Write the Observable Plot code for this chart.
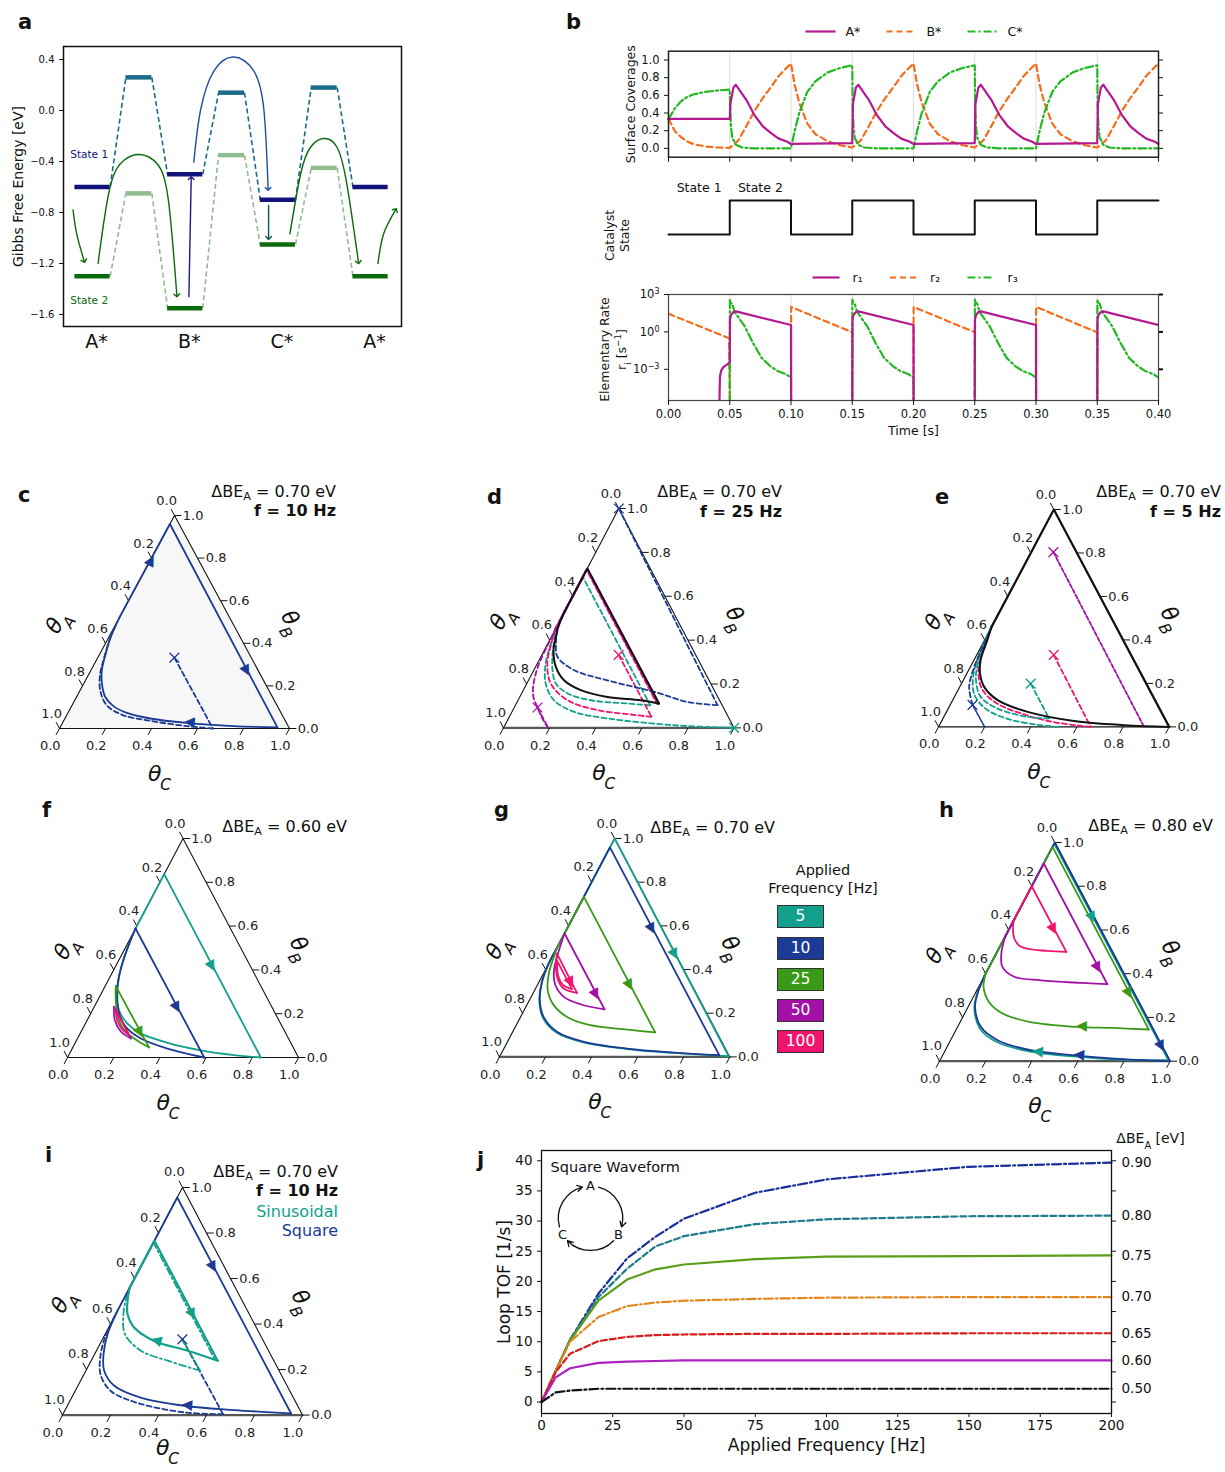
<!DOCTYPE html>
<html>
<head>
<meta charset="utf-8">
<script src="https://cdn.jsdelivr.net/npm/d3@7"></script>
<script src="https://cdn.jsdelivr.net/npm/@observablehq/plot@0.6"></script>
<style>
  html,body{margin:0;padding:0;background:#fff;}
  #root{position:relative;width:1225px;height:1472px;overflow:hidden;font-family:"DejaVu Sans",sans-serif;color:#111;}
  .t{position:absolute;white-space:nowrap;}
  .t sub{font-size:70%;vertical-align:-0.25em;line-height:0;}
</style>
</head>
<body>
<div id="root"></div>
<script>
// ======================= DATA =======================
// ---- panel a: free-energy diagram ----
const aPos = [0, 0.5, 1, 1.5, 2, 2.5, 3];
const aState1 = [-0.6, 0.26, -0.5, 0.14, -0.7, 0.18, -0.6];
const aState2 = [-1.3, -0.65, -1.55, -0.35, -1.05, -0.45, -1.3];
const aSpecies = ["A*", "B*", "C*", "A*"];
const aYTicks = [0.4, 0.0, -0.4, -0.8, -1.2, -1.6];
const aArrowInA = [[-0.21, -0.78], [-0.17, -0.97], [-0.09, -1.18]];
const aArrowAB2 = [[0.06, -1.2], [0.19, -0.6], [0.34, -0.39], [0.51, -0.345], [0.70, -0.42], [0.82, -0.71], [0.91, -1.45]];
const aArrowB21 = [[1.04, -1.46], [1.065, -0.53]];
const aArrowBC1 = [[1.093, -0.405], [1.165, 0.0], [1.31, 0.31], [1.525, 0.42], [1.74, 0.31], [1.85, 0.0], [1.895, -0.615]];
const aArrowC12 = [[1.9, -0.745], [1.9, -1.0]];
const aArrowCA2 = [[2.13, -0.967], [2.245, -0.5], [2.35, -0.29], [2.49, -0.22], [2.64, -0.29], [2.75, -0.6], [2.87, -1.19]];
const aArrowOutA = [[3.08, -1.2], [3.14, -0.97], [3.27, -0.78]];

// ---- panel b: time series ----
const bStateT = [0, 0.05, 0.1, 0.15, 0.2, 0.25, 0.3, 0.35, 0.4];
const bStateV = [1, 2, 1, 2, 1, 2, 1, 2, 2];
const bState2Starts = [0.05, 0.15, 0.25, 0.35];
const bState1Starts = [0.1, 0.2, 0.3];
const bTimeTicks = [0, 0.05, 0.1, 0.15, 0.2, 0.25, 0.3, 0.35, 0.4];
const bCovTicks = [0, 0.2, 0.4, 0.6, 0.8, 1.0];
const bRateTicks = [1e-3, 1, 1e3];
// coverages: first half period (0-0.05 s)
const covInitU = [0, 0.005, 0.01, 0.015, 0.02, 0.03, 0.04, 0.05];
const covAInit = [0.333, 0.333, 0.333, 0.333, 0.333, 0.333, 0.333, 0.333];
const covBInit = [0.333, 0.2, 0.13, 0.08, 0.05, 0.02, 0.01, 0.005];
const covCInit = [0.333, 0.45, 0.53, 0.58, 0.61, 0.64, 0.655, 0.665];
// coverages within a State-2 half period (time since switch)
const covAS2U = [0.0005, 0.003, 0.005, 0.0135, 0.02, 0.027, 0.034, 0.04, 0.047, 0.05];
const covAS2 = [0.5, 0.69, 0.72, 0.55, 0.38, 0.25, 0.17, 0.11, 0.075, 0.05];
const covBS2U = [0.007, 0.0135, 0.02, 0.027, 0.034, 0.04, 0.047, 0.05];
const covBS2 = [0.09, 0.25, 0.42, 0.57, 0.70, 0.82, 0.92, 0.96];
const covCS2U = [0.0003, 0.001, 0.002, 0.005, 0.01, 0.02, 0.05];
const covCS2 = [0.5, 0.25, 0.12, 0.04, 0.01, 0.0, 0.0];
// coverages within a State-1 half period
const covAS1U = [0.05];
const covAS1 = [0.06];
const covBS1U = [0.003, 0.0067, 0.0133, 0.02, 0.03, 0.04, 0.05];
const covBS1 = [0.72, 0.52, 0.28, 0.16, 0.08, 0.035, 0.01];
const covCS1U = [0.003, 0.0067, 0.0133, 0.02, 0.03, 0.04, 0.05];
const covCS1 = [0.2, 0.40, 0.64, 0.76, 0.86, 0.91, 0.94];
// elementary rates, log10 values (-6 = below axis)
const r1InitU = [0, 0.0415, 0.042, 0.043, 0.045, 0.048, 0.05];
const r1Init = [-6, -6, -3.6, -3.1, -2.8, -2.6, -2.45];
const r1S2U = [0.0002, 0.001, 0.003, 0.005, 0.05];
const r1S2 = [1.0, 1.35, 1.6, 1.65, 0.55];
const r1S1U = [0.0001, 0.05];
const r1S1 = [-6, -6];
const r2InitU = [0, 0.0495];
const r2Init = [1.45, -0.5];
const r2S2U = [0.0001, 0.05];
const r2S2 = [-6, -6];
const r2S1U = [0.0001, 0.05];
const r2S1 = [2.0, -0.03];
const r3InitU = [0, 0.05];
const r3Init = [-6, -6];
const r3S2U = [0.0001, 0.0006, 0.002, 0.004, 0.0124, 0.019, 0.026, 0.033, 0.039, 0.046, 0.05];
const r3S2 = [2.6, 2.35, 2.26, 1.6, 0.42, -0.89, -2.08, -2.74, -3.13, -3.39, -3.66];
const r3S1U = [0.0001, 0.05];
const r3S1 = [-6, -6];

// ---- ternary panels: trajectories as [thetaB, thetaC] (thetaA = 1 - B - C) ----
const ternTicks = [0, 0.2, 0.4, 0.6, 0.8, 1.0];
// c
const cLoopEdge = [[0.524, 0], [0.96, 0], [0.005, 0.945]];
const cLoopRet = [[0.005, 0.945], [0.011, 0.751], [0.026, 0.541], [0.047, 0.371], [0.073, 0.256], [0.105, 0.182], [0.148, 0.125], [0.211, 0.079], [0.274, 0.047], [0.344, 0.027], [0.423, 0.009], [0.524, 0]];
const cInitLine = [[0.333, 0.333], [0, 0.667]];
const cInitRet = [[0, 0.667], [0.011, 0.549], [0.036, 0.376], [0.062, 0.247], [0.109, 0.151], [0.18, 0.087], [0.258, 0.048], [0.321, 0.031], [0.399, 0.013], [0.46, 0.003]];
const cStart = [0.333, 0.333];
// d
const dLoopEdge = [[0.53, 0], [0.727, 0], [0.111, 0.619]];
const dLoopRet = [[0.111, 0.619], [0.126, 0.532], [0.141, 0.38], [0.172, 0.249], [0.217, 0.154], [0.278, 0.088], [0.354, 0.04], [0.415, 0.02], [0.46, 0.007], [0.53, 0]];
const dNavyEdge = [[1, 0], [0.104, 0.876]];
const dNavyRet = [[0.104, 0.876], [0.118, 0.739], [0.16, 0.588], [0.217, 0.342], [0.263, 0.175], [0.324, 0.072], [0.385, 0.035], [0.445, 0.011], [0.53, 0]];
const dTealRet1 = [[0, 1], [0.012, 0.734], [0.043, 0.43], [0.073, 0.27], [0.126, 0.156], [0.202, 0.082], [0.294, 0.036], [0.385, 0.013], [0.45, 0]];
const dTealEdge = [[0.45, 0], [0.688, 0], [0.103, 0.585]];
const dTealRet2 = [[0.103, 0.585], [0.111, 0.482], [0.126, 0.316], [0.157, 0.2], [0.202, 0.126], [0.263, 0.081], [0.324, 0.05], [0.4, 0.02], [0.46, 0]];
const dPinkLine = [[0.333, 0.333], [0.05, 0.617]];
const dPinkRet = [[0.05, 0.617], [0.058, 0.55], [0.081, 0.368], [0.126, 0.215], [0.202, 0.104], [0.294, 0.043], [0.385, 0.015], [0.45, 0]];
const dPinkEdge = [[0.45, 0], [0.722, 0], [0.11, 0.612]];
const dPurpLine = [[0.093, 0.101], [0, 0.194]];
const dPurpRet = [[0, 0.194], [0.04, 0.15], [0.093, 0.101], [0.14, 0.06], [0.187, 0.035], [0.278, 0.01], [0.4, 0.002], [0.5, 0]];
const dPurpEdge = [[0.5, 0], [0.725, 0], [0.112, 0.616]];
const dStarts = {navy: [1, 0], teal: [0, 1], pink: [0.333, 0.333], purple: [0.093, 0.101]};
// e
const eLoopEdge = [[0.46, 0], [1, 0], [0, 1]];
const eLoopRet = [[0, 1], [0.008, 0.801], [0.027, 0.574], [0.069, 0.352], [0.123, 0.195], [0.184, 0.106], [0.246, 0.057], [0.307, 0.029], [0.399, 0.012], [0.46, 0]];
const ePurpLine = [[0.804, 0.096], [0, 0.891]];
const ePinkLine = [[0.331, 0.334], [0, 0.66]];
const ePinkRet = [[0, 0.66], [0.02, 0.5], [0.055, 0.35], [0.11, 0.195], [0.17, 0.106], [0.233, 0.057], [0.295, 0.029], [0.39, 0.01], [0.46, 0]];
const eTealLine = [[0.199, 0.3], [0.039, 0.46]];
const eTealRet = [[0.039, 0.46], [0.046, 0.363], [0.084, 0.214], [0.138, 0.114], [0.215, 0.055], [0.291, 0.024], [0.383, 0.005], [0.46, 0]];
const eTealRet2 = [[0, 0.52], [0.01, 0.42], [0.04, 0.27], [0.085, 0.16], [0.15, 0.08], [0.23, 0.035], [0.33, 0.01], [0.45, 0]];
const eNavyLine = [[0.101, 0.097], [0, 0.2]];
const eNavyRet = [[0.101, 0.097], [0.184, 0.041], [0.276, 0.017], [0.383, 0.006], [0.46, 0]];
const eStarts = {purple: [0.804, 0.096], pink: [0.331, 0.334], teal: [0.199, 0.3], navy: [0.101, 0.097]};
// f (0.60 eV)
const fTealEdge = [[0.589, 0], [0.837, 0], [0, 0.837]];
const fTealRet = [[0, 0.837], [0.011, 0.716], [0.033, 0.56], [0.067, 0.4], [0.11, 0.262], [0.155, 0.182], [0.216, 0.115], [0.292, 0.07], [0.368, 0.039], [0.459, 0.016], [0.589, 0]];
const fNavyEdge = [[0.589, 0], [0, 0.592]];
const fNavyRet = [[0, 0.592], [0.041, 0.412], [0.087, 0.274], [0.14, 0.182], [0.201, 0.123], [0.277, 0.075], [0.353, 0.043], [0.429, 0.023], [0.521, 0.007], [0.589, 0]];
const fGreenEdge = [[0.326, 0.046], [0.046, 0.33]];
const fGreenRet = [[0.046, 0.33], [0.087, 0.245], [0.125, 0.183], [0.185, 0.126], [0.262, 0.078], [0.326, 0.046]];
const fPurpEdge = [[0.231, 0.086], [0.087, 0.231]];
const fPurpRet = [[0.087, 0.231], [0.12, 0.17], [0.17, 0.12], [0.231, 0.086]];
const fPinkEdge = [[0.216, 0.101], [0.102, 0.216]];
const fPinkRet = [[0.102, 0.216], [0.13, 0.17], [0.17, 0.13], [0.216, 0.101]];
// g (0.70 eV)
const gTealEdge = [[0.5, 0], [1, 0], [0.003, 0.994]];
const gTealRet = [[0.003, 0.994], [0.018, 0.747], [0.036, 0.535], [0.066, 0.332], [0.11, 0.194], [0.178, 0.1], [0.256, 0.045], [0.34, 0.013], [0.428, 0], [0.5, 0]];
const gNavyEdge = [[0.5, 0], [0.959, 0], [0.008, 0.95]];
const gNavyRet = [[0.008, 0.95], [0.02, 0.747], [0.038, 0.535], [0.069, 0.332], [0.114, 0.194], [0.183, 0.1], [0.26, 0.045], [0.343, 0.013], [0.428, 0], [0.5, 0]];
const gGreenEdge = [[0.5, 0], [0.733, 0], [0.112, 0.62]];
const gGreenRet = [[0.112, 0.62], [0.125, 0.491], [0.145, 0.322], [0.183, 0.202], [0.237, 0.117], [0.305, 0.057], [0.382, 0.023], [0.458, 0.007], [0.5, 0]];
const gPurpEdge = [[0.565, 0], [0.218, 0.347]];
const gPurpRet = [[0.218, 0.347], [0.241, 0.231], [0.275, 0.142], [0.328, 0.079], [0.39, 0.041], [0.458, 0.021], [0.53, 0.006], [0.565, 0]];
const gPinkEdge = [[0.473, 0.013], [0.293, 0.19]];
const gPinkRet = [[0.293, 0.19], [0.313, 0.122], [0.35, 0.08], [0.41, 0.04], [0.473, 0.013]];
const gPink2Edge = [[0.44, 0.03], [0.31, 0.16]];
const gPink2Ret = [[0.31, 0.16], [0.33, 0.11], [0.37, 0.07], [0.44, 0.03]];
// h (0.80 eV)
const hTealEdge = [[0.39, 0], [0.995, 0], [0.005, 0.99]];
const hTealRet = [[0.005, 0.99], [0.008, 0.751], [0.022, 0.57], [0.044, 0.371], [0.088, 0.204], [0.15, 0.1], [0.242, 0.03], [0.305, 0.01], [0.39, 0]];
const hNavyEdge = [[0.39, 0], [1, 0], [0, 1]];
const hBound = [[0, 1], [0.012, 0.751], [0.027, 0.57], [0.05, 0.371], [0.096, 0.204], [0.157, 0.101], [0.248, 0.03], [0.31, 0.01], [0.39, 0]];
const hGreenEdge = [[0.401, 0], [0.98, 0], [0.145, 0.835]];
const hGreenRet = [[0.145, 0.835], [0.152, 0.675], [0.157, 0.514], [0.18, 0.3], [0.218, 0.165], [0.271, 0.079], [0.34, 0.021], [0.401, 0]];
const hPurpEdge = [[0.568, 0], [0.904, 0], [0.352, 0.552]];
const hPurpRet = [[0.352, 0.552], [0.358, 0.434], [0.37, 0.254], [0.386, 0.131], [0.431, 0.057], [0.5, 0.019], [0.568, 0]];
const hPinkEdge = [[0.65, 0], [0.8, 0], [0.5, 0.3]];
const hPinkRet = [[0.5, 0.3], [0.504, 0.216], [0.523, 0.092], [0.561, 0.044], [0.622, 0.008], [0.65, 0]];
// i (square vs sinusoidal)
const iSqEdge = [[0.46, 0], [0.956, 0], [0.007, 0.949]];
const iSqRet = [[0.007, 0.949], [0.022, 0.704], [0.041, 0.487], [0.077, 0.287], [0.129, 0.151], [0.195, 0.076], [0.268, 0.037], [0.356, 0.01], [0.46, 0]];
const iSqLine = [[0.333, 0.333], [0.004, 0.667]];
const iSqTrans = [[0.004, 0.667], [0.012, 0.5], [0.055, 0.28], [0.105, 0.15], [0.175, 0.072], [0.255, 0.03], [0.345, 0.006], [0.45, 0]];
const iSinEdge = [[0.56, 0], [0.766, 0], [0.239, 0.527]];
const iSinRet = [[0.239, 0.527], [0.283, 0.38], [0.326, 0.219], [0.385, 0.106], [0.444, 0.049], [0.502, 0.02], [0.56, 0]];
const iSinLine = [[0.333, 0.333], [0.195, 0.476]];
const iSinTrans = [[0.195, 0.476], [0.239, 0.319], [0.283, 0.185], [0.356, 0.082], [0.444, 0.032], [0.517, 0.008], [0.58, 0]];
const iSinEdge2 = [[0.58, 0], [0.758, 0], [0.245, 0.512]];
const iStart = [0.333, 0.333];
// g legend
const gFreqs = ["5", "10", "25", "50", "100"];

// ---- panel j: loop TOF vs frequency ----
const jFreq = [0, 5, 10, 20, 30, 40, 50, 75, 100, 150, 200];
const jBE = ["0.90", "0.80", "0.75", "0.70", "0.65", "0.60", "0.50"];
const jTOF090 = [0, 5.2, 10.3, 18.0, 23.8, 27.4, 30.4, 34.7, 36.9, 39.0, 39.7];
const jTOF080 = [0, 5.2, 10.3, 17.4, 22.1, 25.8, 27.5, 29.5, 30.3, 30.8, 30.9];
const jTOF075 = [0, 5.2, 10.2, 16.8, 20.3, 22.0, 22.8, 23.7, 24.1, 24.2, 24.3];
const jTOF070 = [0, 5.1, 10.0, 14.1, 15.9, 16.5, 16.8, 17.1, 17.3, 17.4, 17.4];
const jTOF065 = [0, 5.0, 8.0, 10.1, 10.8, 11.1, 11.2, 11.3, 11.3, 11.4, 11.4];
const jTOF060 = [0, 4.1, 5.6, 6.5, 6.7, 6.8, 6.9, 6.9, 6.9, 6.9, 6.9];
const jTOF050 = [0, 1.6, 1.9, 2.2, 2.2, 2.2, 2.2, 2.2, 2.2, 2.2, 2.2];
const jXTicks = [0, 25, 50, 75, 100, 125, 150, 175, 200];
const jYTicks = [0, 5, 10, 15, 20, 25, 30, 35, 40];
const jCycLabels = ["A", "B", "C"];
const jCycX = [17.2, 27.0, 7.4];
const jCycY = [35.8, 27.8, 27.8];

// ======================= HELPERS =======================
const root = document.getElementById("root");
const SVGNS = "http://www.w3.org/2000/svg";
const STYLE = "font-family:'DejaVu Sans',sans-serif;font-size:13px;background:none;overflow:visible;color:#111;";
const fmt1 = d3.format(".1f");

function place(node, left, top) {
  node.style.position = "absolute";
  node.style.left = left + "px";
  node.style.top = top + "px";
  root.appendChild(node);
}
function richify(svg) {
  svg.querySelectorAll("text").forEach(t => {
    const spans = t.querySelectorAll("tspan");
    const targets = spans.length ? [...spans] : [t];
    targets.forEach(el => {
      const s = el.textContent;
      if (!/[_^]/.test(s)) return;
      while (el.firstChild) el.removeChild(el.firstChild);
      const re = /([_^])(?:\{([^}]*)\}|(\S))/g;
      let last = 0, m, prev = "";
      const add = (txt, kind) => {
        const sp = document.createElementNS(SVGNS, "tspan");
        sp.textContent = txt;
        if (kind) {
          sp.setAttribute("font-size", "70%");
          sp.setAttribute("baseline-shift", kind === "_" ? "sub" : "super");
          if (kind === "_" && prev.endsWith("θ")) sp.setAttribute("dx", "-0.08em");
        }
        el.appendChild(sp);
        prev = txt;
      };
      while ((m = re.exec(s))) {
        if (m.index > last) add(s.slice(last, m.index));
        add(m[2] !== undefined ? m[2] : m[3], m[1]);
        last = re.lastIndex;
      }
      if (last < s.length) add(s.slice(last));
    });
  });
}
function txt(html, css) {
  const d = document.createElement("div");
  d.className = "t";
  d.innerHTML = html;
  d.style.cssText += css;
  root.appendChild(d);
  return d;
}
function ann(html, rightX, baseline, size, extra) {
  return txt(html, `right:${1225 - rightX}px;top:${baseline - 0.846 * size}px;font-size:${size}px;line-height:${size}px;${extra || ""}`);
}
function letter(ch, left, baseline) {
  return txt(ch, `left:${left}px;top:${baseline - 0.846 * 21}px;font-size:21px;line-height:21px;font-weight:bold;`);
}
function buildSeries(initU, initV, s2U, s2V, s1U, s1V, tf) {
  const f = tf || (v => v);
  const out = initU.map((u, i) => ({t: u, v: f(initV[i])}));
  const halves = [...bState2Starts.map(s => [s, 2]), ...bState1Starts.map(s => [s, 1])].sort((a, b) => a[0] - b[0]);
  for (const [s, k] of halves) {
    const U = k === 2 ? s2U : s1U, V = k === 2 ? s2V : s1V;
    U.forEach((u, i) => out.push({t: s + u, v: f(V[i])}));
  }
  return out;
}
function legend(items, left, cy, step, sample, gap, fontSize) {
  const width = step * items.length + 30, height = 24;
  const rows = items.map((d, i) => ({...d, x0: i * step}));
  const svg = Plot.plot({
    width, height, margin: 0,
    x: {domain: [0, width], range: [0, width], axis: null},
    y: {domain: [0, height], range: [0, height], axis: null},
    style: STYLE,
    marks: [
      ...rows.map(d => Plot.link([d], {x1: r => r.x0, x2: r => r.x0 + sample, y1: () => height / 2, y2: () => height / 2,
        stroke: d.color, strokeWidth: 2.2, strokeDasharray: d.dash})),
      Plot.text(rows, {x: r => r.x0 + sample + gap, y: () => height / 2, text: "label", textAnchor: "start", fontSize})
    ]
  });
  richify(svg);
  place(svg, left, cy - height / 2);
}
// rotated axis title anchored on the left edge of the frame
const vTitle = (s, dx, dy, fontSize, extra) => Plot.text([s], {frameAnchor: "left", textAnchor: "middle", lineAnchor: "middle", dx, dy: dy || 0, rotate: -90, fontSize, text: d => d, ...(extra || {})});

// ======================= PANEL A =======================
(function panelA() {
  const L = 0, T = 40, W = 410, H = 320;
  const fL = 63, fR = 401, fT = 46, fB = 326;
  const hw = i => (i % 2 ? 0.14 : 0.19);
  const mk = (vals, cMin, cTS) => vals.map((v, i) => ({x: aPos[i], y: v, hw: hw(i), color: i % 2 ? cTS : cMin}));
  const s1 = mk(aState1, "#12127a", "#1b6c8a"), s2 = mk(aState2, "#0b6a0b", "#8fbd8f");
  const links = (s, color) => s.slice(1).map((d, i) => ({x1: s[i].x + s[i].hw, y1: s[i].y, x2: d.x - d.hw, y2: d.y, color}));
  const conn = [...links(s1, "#1b6c8a"), ...links(s2, "#8fbd8f")];
  const arrows = [
    {pts: aArrowInA, color: "#0b6a0b"}, {pts: aArrowAB2, color: "#0b6a0b"}, {pts: aArrowB21, color: "#1a1a8c"},
    {pts: aArrowBC1, color: "#1f4f9c"}, {pts: aArrowC12, color: "#10584a"}, {pts: aArrowCA2, color: "#0b6a0b"},
    {pts: aArrowOutA, color: "#0b6a0b"}
  ];
  const svg = Plot.plot({
    width: W, height: H, marginLeft: fL - L, marginRight: L + W - fR, marginTop: fT - T, marginBottom: T + H - fB,
    x: {domain: [-0.313, 3.334]}, y: {domain: [-1.694, 0.502]}, color: {type: "identity"}, style: STYLE,
    marks: [
      Plot.link(conn, {x1: "x1", y1: "y1", x2: "x2", y2: "y2", stroke: "color", strokeWidth: 1.6, strokeDasharray: "5,3"}),
      Plot.ruleY([...s1, ...s2], {y: "y", x1: d => d.x - d.hw, x2: d => d.x + d.hw, stroke: "color", strokeWidth: 4.5}),
      ...arrows.map(a => Plot.line(a.pts, {x: d => d[0], y: d => d[1], curve: "natural", stroke: a.color, strokeWidth: 1.4, markerEnd: "arrow"})),
      Plot.text(["State 1"], {x: () => aPos[0] - 0.24, y: () => aState1[0] + 0.255, text: d => d, textAnchor: "start", fontSize: 10.5, fill: "#12127a"}),
      Plot.text(["State 2"], {x: () => aPos[0] - 0.24, y: () => aState2[0] - 0.19, text: d => d, textAnchor: "start", fontSize: 10.5, fill: "#0b6a0b"}),
      Plot.frame({stroke: "#111", strokeWidth: 1.5}),
      Plot.axisY({ticks: aYTicks, tickFormat: fmt1, tickSize: 4, fontSize: 10, label: null}),
      Plot.axisX({ticks: [0, 1, 2, 3], tickFormat: i => aSpecies[i], tickSize: 0, tickPadding: 8, dx: 4, fontSize: 19, label: null}),
      vTitle("Gibbs Free Energy [eV]", -45, 0, 14)
    ]
  });
  place(svg, L, T);
})();

// ======================= PANEL B =======================
(function panelB() {
  const MAG = "#b5198f", ORA = "#f46d1b", GRN = "#22b822";
  const covA = buildSeries(covInitU, covAInit, covAS2U, covAS2, covAS1U, covAS1);
  const covB = buildSeries(covInitU, covBInit, covBS2U, covBS2, covBS1U, covBS1);
  const covC = buildSeries(covInitU, covCInit, covCS2U, covCS2, covCS1U, covCS1);
  const p10 = v => Math.pow(10, v);
  const r1 = buildSeries(r1InitU, r1Init, r1S2U, r1S2, r1S1U, r1S1, p10);
  const r2 = buildSeries(r2InitU, r2Init, r2S2U, r2S2, r2S1U, r2S1, p10);
  const r3 = buildSeries(r3InitU, r3Init, r3S2U, r3S2, r3S1U, r3S1, p10);
  const grid = bTimeTicks.slice(1, -1);

  legend([{label: "A*", color: MAG}, {label: "B*", color: ORA, dash: "6,4"}, {label: "C*", color: GRN, dash: "8,3,2,3"}], 805, 31, 81, 30, 10, 12.5);

  // coverages
  const L1 = 590, T1 = 15;
  const s1 = Plot.plot({
    width: 580, height: 155, marginLeft: 668 - L1, marginRight: L1 + 580 - 1158, marginTop: 50.7 - T1, marginBottom: T1 + 155 - 156.7,
    x: {domain: [0, 0.4]}, y: {domain: [-0.1, 1.1]}, style: STYLE,
    marks: [
      Plot.ruleX(grid, {stroke: "#dcdcdc"}),
      Plot.line(covB, {x: "t", y: "v", stroke: ORA, strokeWidth: 2.2, strokeDasharray: "6,4"}),
      Plot.line(covC, {x: "t", y: "v", stroke: GRN, strokeWidth: 2.2, strokeDasharray: "8,3,2,3"}),
      Plot.line(covA, {x: "t", y: "v", stroke: MAG, strokeWidth: 2.2}),
      Plot.frame({stroke: "#222", strokeWidth: 1.5}),
      Plot.axisY({anchor: "left", ticks: bCovTicks, tickFormat: fmt1, tickSize: 4, fontSize: 11.5, label: null}),
      Plot.axisY({anchor: "right", ticks: bCovTicks, tickFormat: () => "", tickSize: 4, label: null}),
      Plot.axisX({anchor: "bottom", ticks: bTimeTicks, tickFormat: () => "", tickSize: 5, label: null}),
      vTitle("Surface Coverages", -38, 0, 12.5)
    ]
  });
  place(s1, L1, T1);

  // catalyst state
  const L2 = 590, T2 = 172;
  const st = bStateT.map((t, i) => ({t, v: bStateV[i]}));
  const s2 = Plot.plot({
    width: 580, height: 70, marginLeft: 668 - L2, marginRight: L2 + 580 - 1158, marginTop: 28, marginBottom: 8,
    x: {domain: [0, 0.4], axis: null}, y: {domain: [1, 2], axis: null}, style: STYLE,
    marks: [
      Plot.line(st, {x: "t", y: "v", curve: "step-after", stroke: "#111", strokeWidth: 2}),
      Plot.text(["State 1", "State 2"], {x: (d, i) => (bStateT[i] + bStateT[i + 1]) / 2, y: () => 2, dy: -13, fontSize: 12.5, text: d => d}),
      vTitle("Catalyst\nState", -52, 18, 12.5, {lineHeight: 1.25})
    ]
  });
  place(s2, L2, T2);

  legend([{label: "r₁", color: MAG}, {label: "r₂", color: ORA, dash: "6,4"}, {label: "r₃", color: GRN, dash: "8,3,2,3"}], 812, 277, 77.5, 27, 13, 12.5);

  // rates
  const L3 = 575, T3 = 262;
  const s3 = Plot.plot({
    width: 595, height: 185, marginLeft: 668 - L3, marginRight: L3 + 595 - 1158, marginTop: 294 - T3, marginBottom: T3 + 185 - 400,
    x: {domain: [0, 0.4]}, y: {type: "log", domain: [Math.pow(10, -5.5), 1e3]}, style: STYLE,
    marks: [
      Plot.ruleX(grid, {stroke: "#dcdcdc"}),
      Plot.line(r2, {x: "t", y: "v", stroke: ORA, strokeWidth: 2.2, strokeDasharray: "6,4", clip: true}),
      Plot.line(r3, {x: "t", y: "v", stroke: GRN, strokeWidth: 2.2, strokeDasharray: "8,3,2,3", clip: true}),
      Plot.line(r1, {x: "t", y: "v", stroke: MAG, strokeWidth: 2.2, clip: true}),
      Plot.frame({stroke: "#444", strokeWidth: 1.2}),
      Plot.axisY({anchor: "left", ticks: bRateTicks, tickFormat: d => `10^{${String(Math.round(Math.log10(d))).replace("-", "−")}}`, tickSize: 4, fontSize: 11.5, label: null}),
      Plot.axisY({anchor: "right", ticks: bRateTicks, tickFormat: () => "", tickSize: 4, strokeWidth: 2, label: null}),
      Plot.axisX({anchor: "bottom", ticks: bTimeTicks, tickFormat: d3.format(".2f"), tickSize: 5, fontSize: 11.5, label: null}),
      Plot.text(["Time [s]"], {frameAnchor: "bottom", lineAnchor: "middle", dy: 30, fontSize: 12.5, text: d => d}),
      vTitle("Elementary Rate\nr_i [s^{−1}]", -56, 2, 12.5, {lineHeight: 1.35})
    ]
  });
  richify(s3);
  place(s3, L3, T3);
})();

// ======================= TERNARY =======================
const tX = p => p[1] + p[0] / 2;
const tY = p => p[0];
const COL = {teal: "#12a08c", navy: "#1b3b94", green: "#3a9a17", purple: "#a210a6", pink: "#f0146e", black: "#111"};
const DASH = "5,3", DASHDOT = "7,3,2,3";
const sm = (pts, color, dash, w) => ({pts, color, dash, smooth: true, w});
const ln = (pts, color, dash, w) => ({pts, color, dash, smooth: false, w});
const ar = (pts, seg, t, color) => ({pts, seg, t, color});

function ternary(geo, spec) {
  const pl = 75, pt = 45, pr = 85, pb = 72;
  const {x0, y0, W, H} = geo;
  const e = 0.03, lb = 0.08, la = 0.068, lr = 0.036;
  const corners = [[0, 0], [0, 1], [1, 0], [0, 0]];
  const marks = [];
  if (spec.fill) marks.push(Plot.line(corners, {x: tX, y: tY, fill: spec.fill, stroke: "none"}));
  marks.push(Plot.line(corners, {x: tX, y: tY, stroke: "#111", strokeWidth: 1.1}));
  if (spec.bottomDark) marks.push(Plot.line([[0, 0], [0, 1]], {x: tX, y: tY, stroke: "#555", strokeWidth: 2.2}));
  const tickText = {fontSize: 13, fill: "#222", text: v => fmt1(v)};
  // bottom axis (theta_C)
  marks.push(Plot.link(ternTicks, {x1: v => v, y1: () => 0, x2: v => v - e / 2, y2: () => -e, stroke: "#111"}));
  marks.push(Plot.text(ternTicks, {...tickText, x: v => v - lb / 2, y: () => -lb}));
  // left axis (theta_A)
  marks.push(Plot.link(ternTicks, {x1: v => (1 - v) / 2, y1: v => 1 - v, x2: v => (1 - v) / 2 - e / 2, y2: v => 1 - v + e, stroke: "#111"}));
  marks.push(Plot.text(ternTicks, {...tickText, x: v => (1 - v) / 2 - la / 2, y: v => 1 - v + la}));
  // right axis (theta_B)
  marks.push(Plot.link(ternTicks, {x1: v => 1 - v / 2, y1: v => v, x2: v => 1 - v / 2 + e, y2: v => v, stroke: "#111"}));
  marks.push(Plot.text(ternTicks, {...tickText, x: v => 1 - v / 2 + lr, y: v => v, textAnchor: "start"}));
  // titles
  const titleOpts = {fontSize: 22, fontStyle: "italic", fill: "#111", text: d => d};
  marks.push(Plot.text(["θ_A"], {...titleOpts, x: () => tX([0.5, 0]), y: () => 0.5, dx: -60, rotate: -60}));
  marks.push(Plot.text(["θ_B"], {...titleOpts, x: () => tX([0.5, 0.5]), y: () => 0.5, dx: 60, rotate: 60}));
  marks.push(Plot.text(["θ_C"], {...titleOpts, x: () => tX([0, 0.5]), y: () => 0, dx: -15, dy: spec.cDy || 45}));
  // trajectories
  for (const c of spec.curves) {
    marks.push(Plot.line(c.pts, {x: tX, y: tY, stroke: c.color, strokeWidth: c.w || 1.8, strokeDasharray: c.dash,
      curve: c.smooth ? "catmull-rom" : "linear"}));
  }
  // arrowheads
  const arrowData = (spec.arrows || []).map(a => {
    const p = a.pts[a.seg], q = a.pts[a.seg + 1];
    const pos = [p[0] + a.t * (q[0] - p[0]), p[1] + a.t * (q[1] - p[1])];
    const ang = Math.atan2(-(q[0] - p[0]) * H, (tX(q) - tX(p)) * W) * 180 / Math.PI;
    return {pos, ang, color: a.color};
  });
  marks.push(Plot.text(arrowData, {x: d => tX(d.pos), y: d => tY(d.pos), text: () => "▶", rotate: d => d.ang, fill: d => d.color, fontSize: 14}));
  // initial-state markers
  marks.push(Plot.dot(spec.crosses || [], {x: d => tX(d.p), y: d => tY(d.p), symbol: "times", r: 4.5, stroke: d => d.color, strokeWidth: 1.3}));
  const svg = Plot.plot({
    width: W + pl + pr, height: H + pt + pb, margin: 0,
    x: {domain: [0, 1], range: [pl, pl + W], axis: null},
    y: {domain: [0, 1], range: [pt + H, pt], axis: null},
    color: {type: "identity"}, style: STYLE, marks
  });
  richify(svg);
  place(svg, x0 - pl, y0 - H - pt);
}

// c
ternary({x0: 59.3, y0: 728.3, W: 230, H: 213}, {
  fill: "#f7f7f7",
  curves: [ln(cInitLine, COL.navy, DASH), sm(cInitRet, COL.navy, DASH), ln(cLoopEdge, COL.navy), sm(cLoopRet, COL.navy)],
  arrows: [ar(cLoopEdge, 0, 0.61, COL.navy), ar(cLoopEdge, 1, 0.72, COL.navy), ar(cLoopRet, 1, 0.95, COL.navy)],
  crosses: [{p: cStart, color: COL.navy}]
});
// d
ternary({x0: 502.7, y0: 727.7, W: 230.6, H: 219.4}, {
  bottomDark: true,
  curves: [
    sm(dTealRet1, COL.teal, DASH), ln(dTealEdge, COL.teal, DASH), sm(dTealRet2, COL.teal, DASH),
    ln(dPinkLine, COL.pink, DASH), sm(dPinkRet, COL.pink, DASH), ln(dPinkEdge, COL.pink, DASH, 2.4),
    ln(dPurpLine, COL.purple, DASH), sm(dPurpRet, COL.purple, DASH), ln(dPurpEdge, COL.purple, DASH, 2.4),
    ln(dNavyEdge, COL.navy, DASH), sm(dNavyRet, COL.navy, DASH),
    ln(dLoopEdge, COL.black, null, 2), sm(dLoopRet, COL.black, null, 2)
  ],
  crosses: [{p: dStarts.navy, color: COL.navy}, {p: dStarts.teal, color: COL.teal}, {p: dStarts.pink, color: COL.pink}, {p: dStarts.purple, color: COL.purple}]
});
// e
ternary({x0: 937.7, y0: 726.7, W: 230.7, H: 217.4}, {
  curves: [
    ln(ePurpLine, COL.purple, "4,2"),
    ln(ePinkLine, COL.pink, DASH), sm(ePinkRet, COL.pink, DASH),
    ln(eTealLine, COL.teal, DASH), sm(eTealRet, COL.teal, DASH), sm(eTealRet2, COL.teal, DASH),
    ln(eNavyLine, COL.navy, "2,1", 1.6), sm(eNavyRet, COL.navy, DASH),
    ln(eLoopEdge, COL.black, null, 2.2), sm(eLoopRet, COL.black, null, 2)
  ],
  crosses: [{p: eStarts.purple, color: COL.purple}, {p: eStarts.pink, color: COL.pink}, {p: eStarts.teal, color: COL.teal}, {p: eStarts.navy, color: COL.navy}]
});
// f
ternary({x0: 66.7, y0: 1057.3, W: 231, H: 219}, {
  curves: [
    ln(fTealEdge, COL.teal), sm(fTealRet, COL.teal),
    ln(fNavyEdge, COL.navy), sm(fNavyRet, COL.navy),
    ln(fGreenEdge, COL.green), sm(fGreenRet, COL.green),
    ln(fPurpEdge, COL.purple), sm(fPurpRet, COL.purple),
    ln(fPinkEdge, COL.pink), sm(fPinkRet, COL.pink)
  ],
  arrows: [ar(fTealEdge, 1, 0.5, COL.teal), ar(fNavyEdge, 0, 0.61, COL.navy), ar(fGreenEdge, 0, 0.75, COL.green)]
});
// g
ternary({x0: 499, y0: 1056.7, W: 230.3, H: 218.4}, {
  bottomDark: true,
  curves: [
    ln(gTealEdge, COL.teal), sm(gTealRet, COL.teal),
    ln(gNavyEdge, COL.navy), sm(gNavyRet, COL.navy),
    ln(gGreenEdge, COL.green), sm(gGreenRet, COL.green),
    ln(gPurpEdge, COL.purple), sm(gPurpRet, COL.purple),
    ln(gPinkEdge, COL.pink), sm(gPinkRet, COL.pink), ln(gPink2Edge, COL.pink), sm(gPink2Ret, COL.pink)
  ],
  arrows: [ar(gTealEdge, 1, 0.53, COL.teal), ar(gNavyEdge, 1, 0.39, COL.navy), ar(gGreenEdge, 1, 0.65, COL.green),
    ar(gPurpEdge, 0, 0.8, COL.purple), ar(gPinkEdge, 0, 0.72, COL.pink)]
});
// h
ternary({x0: 938.7, y0: 1061, W: 230.6, H: 218.7}, {
  bottomDark: true,
  curves: [
    ln(hTealEdge, COL.teal), sm(hTealRet, COL.teal),
    ln(hNavyEdge, COL.navy), sm(hBound, COL.navy),
    ln(hGreenEdge, COL.green), sm(hGreenRet, COL.green),
    ln(hPurpEdge, COL.purple), sm(hPurpRet, COL.purple),
    ln(hPinkEdge, COL.pink), sm(hPinkRet, COL.pink)
  ],
  arrows: [ar(hTealEdge, 1, 0.34, COL.teal), ar(hNavyEdge, 1, 0.93, COL.navy), ar(hTealRet, 2, 0.83, COL.teal), ar(hBound, 1, 0.88, COL.navy),
    ar(hGreenEdge, 1, 0.8, COL.green), ar(hGreenRet, 1, 0.85, COL.green), ar(hPurpEdge, 1, 0.86, COL.purple), ar(hPinkEdge, 1, 0.65, COL.pink)]
});
// i
ternary({x0: 61.7, y0: 1414.3, W: 240, H: 227.6}, {
  bottomDark: true, cDy: 33,
  curves: [
    ln(iSqLine, COL.navy, DASH), sm(iSqTrans, COL.navy, DASH),
    ln(iSinLine, COL.teal, DASHDOT), sm(iSinTrans, COL.teal, DASHDOT), ln(iSinEdge2, COL.teal, DASHDOT),
    ln(iSqEdge, COL.navy), sm(iSqRet, COL.navy),
    ln(iSinEdge, COL.teal, null, 2.2), sm(iSinRet, COL.teal, null, 2.2)
  ],
  arrows: [ar(iSqEdge, 1, 0.32, COL.navy), ar(iSqRet, 1, 0.95, COL.navy), ar(iSinEdge, 1, 0.61, COL.teal), ar(iSinRet, 1, 0.95, COL.teal)],
  crosses: [{p: iStart, color: COL.navy}]
});

// ======================= PANEL J =======================
(function panelJ() {
  const L = 480, T = 1130, W = 745, H = 342;
  const fL = 541, fR = 1111, fT = 1150, fB = 1413;
  const series = [
    {be: jBE[0], vals: jTOF090, color: "#1b2f9b", dash: "9,3,2,3"},
    {be: jBE[1], vals: jTOF080, color: "#1f7c8c", dash: "6,3"},
    {be: jBE[2], vals: jTOF075, color: "#5a9e1c"},
    {be: jBE[3], vals: jTOF070, color: "#e3871c", dash: "9,3,2,3"},
    {be: jBE[4], vals: jTOF065, color: "#d81b1b", dash: "6,3"},
    {be: jBE[5], vals: jTOF060, color: "#ad1fc2"},
    {be: jBE[6], vals: jTOF050, color: "#111", dash: "9,3,2,3"}
  ];
  const pairs = [[0, 1], [1, 2], [2, 0]].map(([a, b]) => ({x1: jCycX[a], y1: jCycY[a], x2: jCycX[b], y2: jCycY[b]}));
  const svg = Plot.plot({
    width: W, height: H, marginLeft: fL - L, marginRight: L + W - fR, marginTop: fT - T, marginBottom: T + H - fB,
    x: {domain: [0, 200]}, y: {domain: [-1.9, 41.7]}, style: STYLE,
    marks: [
      ...series.map(s => Plot.line(jFreq.map((f, i) => ({f, v: s.vals[i]})), {x: "f", y: "v", stroke: s.color, strokeWidth: 2.2, strokeDasharray: s.dash})),
      Plot.frame({stroke: "#111", strokeWidth: 1.3}),
      Plot.axisX({ticks: jXTicks, tickSize: 4, tickPadding: 3, fontSize: 13.5, label: null}),
      Plot.axisY({anchor: "left", ticks: jYTicks, tickSize: 4, fontSize: 13.5, label: null}),
      Plot.axisY({anchor: "right", ticks: jYTicks, tickSize: 4, tickFormat: () => "", label: null}),
      Plot.text(series, {x: () => 200, y: s => s.vals[s.vals.length - 1], text: "be", dx: 10, textAnchor: "start", fontSize: 13.5}),
      Plot.text(["ΔBE_A [eV]"], {frameAnchor: "top-right", textAnchor: "middle", lineAnchor: "middle", dx: 39, dy: -12, fontSize: 14, text: d => d}),
      Plot.text(["Applied Frequency [Hz]"], {frameAnchor: "bottom", lineAnchor: "middle", dy: 32, fontSize: 17, text: d => d}),
      vTitle("Loop TOF [1/s]", -37, 0, 17),
      Plot.text(["Square Waveform"], {x: () => 3.2, y: () => 38.9, textAnchor: "start", fontSize: 14.5, text: d => d}),
      Plot.text(jCycLabels, {x: (d, i) => jCycX[i], y: (d, i) => jCycY[i], fontSize: 13, text: d => d}),
      Plot.arrow(pairs, {x1: "x1", y1: "y1", x2: "x2", y2: "y2", bend: 60, insetStart: 8, insetEnd: 8, headLength: 7, stroke: "#111", strokeWidth: 1.3})
    ]
  });
  richify(svg);
  place(svg, L, T);
})();

// ======================= TEXT ANNOTATIONS =======================
letter("a", 18, 30); letter("b", 566, 30); letter("c", 18, 503); letter("d", 487, 505); letter("e", 935, 505);
letter("f", 42, 818); letter("g", 494, 818); letter("h", 939, 818); letter("i", 45, 1163); letter("j", 477, 1168);
const dBE = v => `ΔBE<sub>A</sub> = ${v} eV`;
ann(dBE("0.70"), 336, 498, 16); ann("f = 10 Hz", 336, 517, 16, "font-weight:bold;");
ann(dBE("0.70"), 782, 498, 16); ann("f = 25 Hz", 782, 518, 16, "font-weight:bold;");
ann(dBE("0.70"), 1221, 498, 16); ann("f = 5 Hz", 1221, 518, 16, "font-weight:bold;");
ann(dBE("0.60"), 347, 833, 16);
ann(dBE("0.70"), 775, 834, 16);
ann(dBE("0.80"), 1213, 832, 16);
ann(dBE("0.70"), 338, 1178, 16); ann("f = 10 Hz", 338, 1197, 16, "font-weight:bold;");
ann("Sinusoidal", 338, 1218, 16, `color:${COL.teal};`); ann("Square", 338, 1237, 16, `color:${COL.navy};`);
// g legend
txt("Applied<br>Frequency [Hz]", "left:748px;width:150px;text-align:center;top:861px;font-size:14.5px;line-height:18px;");
const gCols = [COL.teal, COL.navy, COL.green, COL.purple, COL.pink];
gFreqs.forEach((f, i) => {
  txt(f, `left:777px;top:${905.3 + i * 31.2}px;width:47px;height:23px;box-sizing:border-box;border:1.5px solid #333;background:${gCols[i]};color:#fff;text-align:center;font-size:15.5px;line-height:20px;`);
});
</script>
</body>
</html>
